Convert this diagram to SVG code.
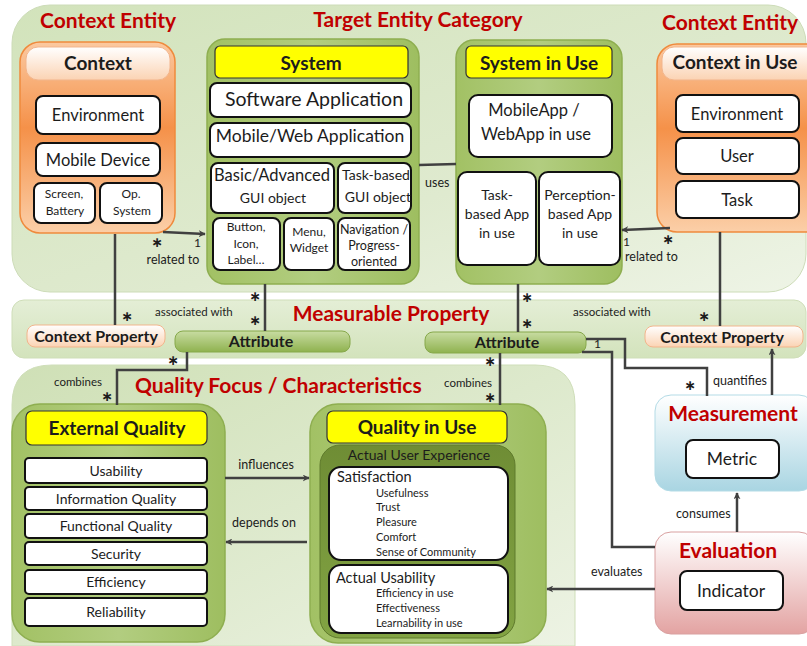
<svg xmlns="http://www.w3.org/2000/svg" width="807" height="646" viewBox="0 0 807 646">
<defs>
<linearGradient id="gBig" x1="0" y1="0" x2="1" y2="1"><stop offset="0" stop-color="#d2e3bb"/><stop offset="0.6" stop-color="#dfeacf"/><stop offset="1" stop-color="#eef4e6"/></linearGradient>
<linearGradient id="gBand" x1="0" y1="0" x2="0" y2="1"><stop offset="0" stop-color="#e4eed6"/><stop offset="1" stop-color="#d3e3bc"/></linearGradient>
<linearGradient id="gQF" x1="0" y1="0" x2="1" y2="1"><stop offset="0" stop-color="#cfe0b6"/><stop offset="0.5" stop-color="#dde9cc"/><stop offset="1" stop-color="#edf3e4"/></linearGradient>
<linearGradient id="gGreen" x1="0" y1="0" x2="1" y2="0"><stop offset="0" stop-color="#a2c164"/><stop offset="0.5" stop-color="#b2cd80"/><stop offset="1" stop-color="#9ebe60"/></linearGradient>
<linearGradient id="gOrange" x1="0" y1="0" x2="0" y2="1"><stop offset="0" stop-color="#fbc9a0"/><stop offset="0.45" stop-color="#f59149"/><stop offset="1" stop-color="#fbcfa8"/></linearGradient>
<linearGradient id="gPill" x1="0" y1="0" x2="0" y2="1"><stop offset="0" stop-color="#ffffff"/><stop offset="1" stop-color="#fbd3b3"/></linearGradient>
<linearGradient id="gAttr" x1="0" y1="0" x2="0" y2="1"><stop offset="0" stop-color="#c8dca2"/><stop offset="1" stop-color="#8fb24f"/></linearGradient>
<linearGradient id="gMeas" x1="0" y1="0" x2="0" y2="1"><stop offset="0" stop-color="#ffffff"/><stop offset="1" stop-color="#a9d5e2"/></linearGradient>
<linearGradient id="gEval" x1="0" y1="0" x2="0" y2="1"><stop offset="0" stop-color="#ffffff"/><stop offset="1" stop-color="#e3a3a2"/></linearGradient>
<linearGradient id="gAUX" x1="0" y1="0" x2="0" y2="1"><stop offset="0" stop-color="#6f8d35"/><stop offset="1" stop-color="#82a343"/></linearGradient>
<marker id="arr" viewBox="0 0 10 10" refX="9" refY="5" markerWidth="7" markerHeight="7" orient="auto" markerUnits="userSpaceOnUse"><path d="M0,0 L10,5 L0,10 L3,5 Z" fill="#404040"/></marker>
</defs>
<style>
text{font-family:Lato,"Open Sans","Liberation Sans",sans-serif;fill:#1c1c1c}
.title{font-weight:bold;font-size:21px;fill:#c00000}
.hdr{font-weight:bold;font-size:19px;text-anchor:middle}
.c{text-anchor:middle}
.wb{fill:#ffffff;stroke:#111;stroke-width:2}
.yel{fill:#ffff00;stroke:#333;stroke-width:1.2}
.gp{fill:url(#gGreen);stroke:#8eae50;stroke-width:1.5}
.op{fill:url(#gOrange);stroke:#ef8a3c;stroke-width:1.5}
.pill{fill:url(#gPill);stroke:#f2b58c;stroke-width:1}
.attr{fill:url(#gAttr);stroke:#86a84a;stroke-width:1}
.ln{fill:none;stroke:#404040;stroke-width:2.5}
.lbl{font-size:11.5px}
.lk{font-size:12.5px}
.star{font-family:"DejaVu Sans",sans-serif;font-size:14px;font-weight:bold;text-anchor:middle}
.one{font-size:12px}
</style>

<!-- background panels -->
<g id="panel-context-target">
<rect x="12" y="5" width="794" height="287" rx="38" fill="url(#gBig)" stroke="#cddcb8"/>
<text class="title" x="40" y="28">Context Entity</text>
<text class="title c" x="418" y="27">Target Entity Category</text>
<text class="title" x="662" y="30">Context Entity</text>
</g>
<g id="panel-measurable-property">
<rect x="12" y="300" width="794" height="58" rx="12" fill="url(#gBand)" stroke="#cfdeb9"/>
<text class="title c" x="391" y="321">Measurable Property</text>
</g>
<g id="panel-quality-focus">
<path d="M52,365 H535 Q575,365 575,405 V646 H12 V405 Q12,365 52,365 Z" fill="url(#gQF)" stroke="#cfdeb9"/>
<text class="title" x="135" y="393">Quality Focus / Characteristics</text>
</g>

<!-- Context -->
<g id="context">
<rect class="op" x="20" y="42" width="155" height="191" rx="20"/>
<rect class="pill" x="26" y="47" width="144" height="33" rx="12"/>
<text class="hdr" x="98" y="70">Context</text>
<rect class="wb" x="36" y="96" width="124" height="38" rx="7"/>
<text class="c" x="98" y="121" font-size="16.5">Environment</text>
<rect class="wb" x="36" y="143" width="124" height="33" rx="7"/>
<text class="c" x="98" y="166" font-size="16.5">Mobile Device</text>
<rect class="wb" x="34" y="183" width="61" height="40" rx="7"/>
<text class="c" x="64" y="198" font-size="12">Screen,</text>
<text class="c" x="65" y="215" font-size="12">Battery</text>
<rect class="wb" x="100" y="183" width="62" height="40" rx="7"/>
<text class="c" x="131" y="198" font-size="12">Op.</text>
<text class="c" x="132" y="215" font-size="12">System</text>
</g>

<!-- System -->
<g id="system">
<rect class="gp" x="207" y="39" width="212" height="245" rx="18"/>
<rect class="yel" x="215" y="46" width="193" height="32" rx="5"/>
<text class="hdr" x="311" y="70">System</text>
<rect class="wb" x="210" y="83" width="201" height="34" rx="7"/>
<text class="c" x="314" y="106" font-size="19.5">Software Application</text>
<rect class="wb" x="210" y="123" width="201" height="34" rx="7"/>
<text class="c" x="310" y="142" font-size="17.5">Mobile/Web Application</text>
<rect class="wb" x="211" y="163" width="123" height="50" rx="7"/>
<text class="c" x="272" y="181" font-size="16.5">Basic/Advanced</text>
<text class="c" x="273" y="203" font-size="14">GUI object</text>
<rect class="wb" x="338" y="163" width="73" height="50" rx="7"/>
<text class="c" x="376" y="180" font-size="14">Task-based</text>
<text class="c" x="378" y="202" font-size="14">GUI object</text>
<rect class="wb" x="213" y="218" width="67" height="52" rx="7"/>
<text class="c" x="246" y="231" font-size="12">Button,</text>
<text class="c" x="246" y="248" font-size="12">Icon,</text>
<text class="c" x="246" y="264" font-size="12">Label…</text>
<rect class="wb" x="284" y="218" width="50" height="52" rx="7"/>
<text class="c" x="309" y="236" font-size="12">Menu,</text>
<text class="c" x="309" y="252" font-size="12">Widget</text>
<rect class="wb" x="338" y="218" width="72" height="52" rx="7"/>
<text class="c" x="374" y="234" font-size="12.5">Navigation /</text>
<text class="c" x="374" y="250" font-size="12.5">Progress-</text>
<text class="c" x="374" y="266" font-size="12.5">oriented</text>
</g>

<!-- System in Use -->
<g id="system-in-use">
<rect class="gp" x="456" y="40" width="166" height="244" rx="18"/>
<rect class="yel" x="466" y="46" width="146" height="32" rx="5"/>
<text class="hdr" x="539" y="70">System in Use</text>
<rect class="wb" x="469" y="95" width="143" height="62" rx="9"/>
<text class="c" x="534" y="116" font-size="16.5">MobileApp /</text>
<text class="c" x="536" y="140" font-size="16.5">WebApp in use</text>
<rect class="wb" x="458" y="172" width="78" height="93" rx="9"/>
<text class="c" x="497" y="200" font-size="14">Task-</text>
<text class="c" x="497" y="219" font-size="14">based App</text>
<text class="c" x="497" y="238" font-size="14">in use</text>
<rect class="wb" x="539" y="172" width="81" height="93" rx="9"/>
<text class="c" x="580" y="200" font-size="14">Perception-</text>
<text class="c" x="580" y="219" font-size="14">based App</text>
<text class="c" x="580" y="238" font-size="14">in use</text>
</g>

<!-- Context in Use -->
<g id="context-in-use">
<rect class="op" x="657" y="44" width="170" height="188" rx="20"/>
<rect class="pill" x="662" y="47" width="160" height="33" rx="12"/>
<text class="hdr" x="735" y="69">Context in Use</text>
<rect class="wb" x="676" y="95" width="123" height="37" rx="7"/>
<text class="c" x="737" y="120" font-size="16.5">Environment</text>
<rect class="wb" x="676" y="138" width="123" height="36" rx="7"/>
<text class="c" x="737" y="162" font-size="16.5">User</text>
<rect class="wb" x="676" y="181" width="123" height="37" rx="7"/>
<text class="c" x="737" y="206" font-size="16.5">Task</text>
</g>

<!-- Measurable property nodes -->
<g id="context-property-left">
<rect class="pill" x="27" y="325" width="138" height="22" rx="8"/>
<text class="c" x="96" y="342" font-size="16" font-weight="bold">Context Property</text>
</g>
<g id="attribute-left">
<rect class="attr" x="175" y="331" width="175" height="21" rx="8"/>
<text class="c" x="261" y="347" font-size="16" font-weight="bold">Attribute</text>
</g>
<g id="attribute-right">
<rect class="attr" x="425" y="332" width="161" height="21" rx="8"/>
<text class="c" x="507" y="348" font-size="16" font-weight="bold">Attribute</text>
</g>
<g id="context-property-right">
<rect class="pill" x="645" y="326" width="158" height="21" rx="8"/>
<text class="c" x="722" y="343" font-size="16" font-weight="bold">Context Property</text>
</g>

<!-- External Quality -->
<g id="external-quality">
<rect class="gp" x="12" y="404" width="213" height="238" rx="28"/>
<rect class="yel" x="26" y="411" width="181" height="34" rx="6"/>
<text class="hdr" x="117" y="435">External Quality</text>
<rect class="wb" x="25" y="458" width="182" height="25" rx="4"/>
<text class="c" x="116" y="476" font-size="14">Usability</text>
<rect class="wb" x="25" y="487" width="182" height="23" rx="4"/>
<text class="c" x="116" y="504" font-size="14">Information Quality</text>
<rect class="wb" x="25" y="514" width="182" height="24" rx="4"/>
<text class="c" x="116" y="531" font-size="14">Functional Quality</text>
<rect class="wb" x="25" y="542" width="182" height="23" rx="4"/>
<text class="c" x="116" y="559" font-size="14">Security</text>
<rect class="wb" x="25" y="570" width="182" height="24" rx="4"/>
<text class="c" x="116" y="587" font-size="14">Efficiency</text>
<rect class="wb" x="25" y="598" width="182" height="28" rx="4"/>
<text class="c" x="116" y="617" font-size="14">Reliability</text>
</g>

<!-- Quality in Use -->
<g id="quality-in-use">
<rect class="gp" x="310" y="404" width="236" height="239" rx="28"/>
<rect class="yel" x="327" y="411" width="180" height="32" rx="6"/>
<text class="hdr" x="417" y="434">Quality in Use</text>
<rect x="320" y="445" width="195" height="193" rx="20" fill="url(#gAUX)" stroke="#5f7a2c"/>
<text class="c" x="419" y="460" font-size="14">Actual User Experience</text>
<rect class="wb" x="329" y="467" width="179" height="93" rx="12"/>
<text x="337" y="482" font-size="14.5">Satisfaction</text>
<text x="376" y="497" font-size="11">Usefulness</text>
<text x="376" y="511" font-size="11">Trust</text>
<text x="376" y="526" font-size="11">Pleasure</text>
<text x="376" y="541" font-size="11">Comfort</text>
<text x="376" y="556" font-size="11">Sense of Community</text>
<rect class="wb" x="329" y="565" width="179" height="68" rx="12"/>
<text x="336" y="583" font-size="14.5">Actual Usability</text>
<text x="376" y="597" font-size="11">Efficiency in use</text>
<text x="376" y="612" font-size="11">Effectiveness</text>
<text x="376" y="627" font-size="11">Learnability in use</text>
</g>

<!-- Measurement -->
<g id="measurement">
<rect x="655" y="395" width="160" height="96" rx="16" fill="url(#gMeas)" stroke="#b3dbe6"/>
<text class="title c" x="733" y="421">Measurement</text>
<rect class="wb" x="686" y="440" width="93" height="38" rx="7"/>
<text class="c" x="732" y="465" font-size="17.5">Metric</text>
</g>

<!-- Evaluation -->
<g id="evaluation">
<rect x="655" y="532" width="160" height="102" rx="16" fill="url(#gEval)" stroke="#d9a0a0"/>
<text class="title c" x="728" y="558">Evaluation</text>
<rect class="wb" x="680" y="571" width="103" height="39" rx="7"/>
<text class="c" x="731" y="597" font-size="17.5">Indicator</text>
</g>

<!-- connectors -->
<g id="connectors">
<path class="ln" d="M163,232 L205,234" marker-end="url(#arr)"/>
<path class="ln" d="M419,165 L456,164"/>
<path class="ln" d="M670,228 L622,230" marker-end="url(#arr)"/>
<path class="ln" d="M115,234 V325"/>
<path class="ln" d="M720,232 V326"/>
<path class="ln" d="M265,284 V331"/>
<path class="ln" d="M518,284 V332"/>
<path class="ln" d="M187,352 V370 H117 V405"/>
<path class="ln" d="M500,353 V405"/>
<path class="ln" d="M586,339 H625 V368 H707 V396"/>
<path class="ln" d="M582,352 H612 V547 H655"/>
<path class="ln" d="M772,395 V349" marker-end="url(#arr)"/>
<path class="ln" d="M737,532 V493" marker-end="url(#arr)"/>
<path class="ln" d="M655,589 H547" marker-end="url(#arr)"/>
<path class="ln" d="M225,478 H309" marker-end="url(#arr)"/>
<path class="ln" d="M307,542 H226" marker-end="url(#arr)"/>

<text class="star" x="157" y="247">∗</text>
<text class="one" x="194" y="247">1</text>
<text class="c lk" x="173" y="264">related to</text>
<text class="star" x="668" y="244">∗</text>
<text class="one" x="623" y="246">1</text>
<text class="lk" x="625" y="261">related to</text>
<text class="lk" x="425" y="187">uses</text>

<text class="star" x="255" y="301">∗</text>
<text class="star" x="255" y="325">∗</text>
<text class="star" x="127" y="321">∗</text>
<text class="lbl" x="155" y="316">associated with</text>
<text class="star" x="527" y="302">∗</text>
<text class="star" x="527" y="328">∗</text>
<text class="star" x="704" y="321">∗</text>
<text class="lbl" x="573" y="316">associated with</text>

<text class="star" x="173" y="365">∗</text>
<text class="star" x="107" y="401">∗</text>
<text class="lbl" x="54" y="386">combines</text>
<text class="star" x="490" y="366">∗</text>
<text class="star" x="490" y="402">∗</text>
<text class="lbl" x="444" y="387">combines</text>

<text class="one" x="594" y="348">1</text>
<text class="star" x="690" y="390">∗</text>
<text class="lk" x="713" y="385">quantifies</text>
<text class="lk" x="676" y="518">consumes</text>
<text class="lk" x="591" y="576">evaluates</text>
<text class="c lk" x="266" y="469">influences</text>
<text class="c lk" x="264" y="527">depends on</text>
</g>
</svg>
